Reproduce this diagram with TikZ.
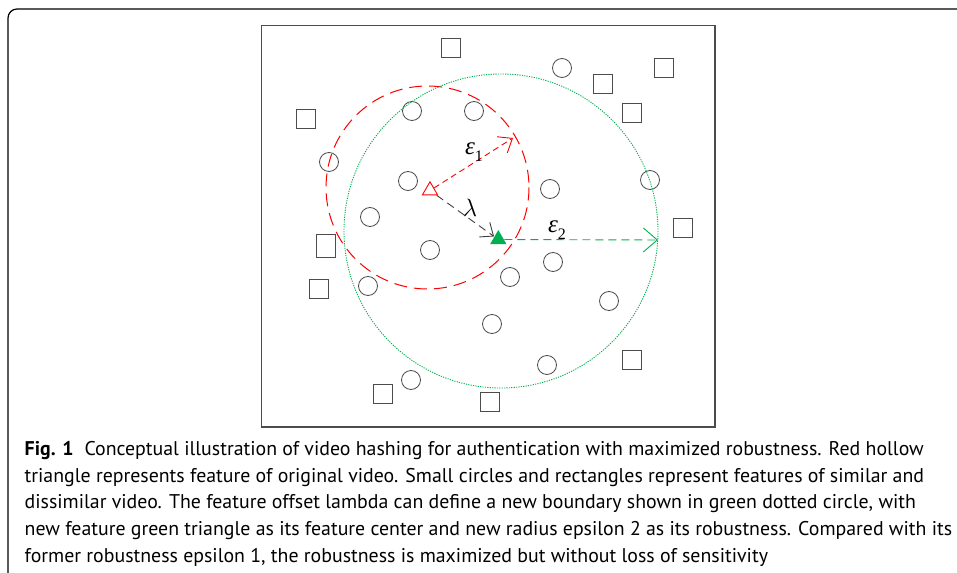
\RequirePackage{fix-cm}
\documentclass[tikz,border=0pt]{standalone}
\usepackage{fontspec}
\setsansfont{PT Sans}
\newfontfamily\lblfont{Liberation Serif}
\usetikzlibrary{shapes.geometric, arrows.meta}
\definecolor{featgreen}{RGB}{0,176,80}
\newcommand{\epslbl}[1]{{\itshape ε}\raisebox{-0.28em}{\fontsize{16bp}{16bp}\selectfont #1}}

\begin{document}
\begin{tikzpicture}[x=1bp, y=-1bp]
        % Setup the styles for the features
        \tikzset{sim style/.style={circle,
                                   draw=black!70,
                                   line width=0.8bp,
                                   minimum size=19bp,
                                   inner sep=0pt},
                 dis style/.style={rectangle,
                                   draw=black!70,
                                   line width=0.8bp,
                                   minimum size=19.5bp,
                                   inner sep=0pt},
                 tri style/.style={regular polygon,
                                   regular polygon sides=3,
                                   minimum size=17.5bp,
                                   inner sep=0pt,
                                   line width=0.9bp},
                 cap style/.style={anchor=base west,
                                   inner sep=0pt,
                                   font=\sffamily\fontsize{19.85bp}{26.7bp}\selectfont},
                 lbl style/.style={inner sep=0pt,
                                   font=\lblfont\fontsize{25bp}{28bp}\selectfont}}
        \useasboundingbox (0,0) rectangle (957,573);

        % Draw the frames
        \draw[line width=1.2bp, rounded corners=9bp] (8,600) -- (8,9) -- (980,9);
        \draw[black!70, line width=1.1bp] (261.5,25.5) rectangle (715,427);

        % Draw the similar and dissimilar features
        \foreach \x/\y [count=\i] in {412/111, 474/111, 329/162, 408/181, 370/217,
                                      430/250, 368/286, 562/68, 650/180, 550/189,
                                      553/262, 510/277, 609/301, 492/324, 547/365, 411/380}
            \node[sim style] (c\i) at (\x,\y) {};
        \foreach \x/\y [count=\i] in {451/48, 306/119, 319/289, 664/68, 603/84,
                                      632/113, 683/228, 383/394, 490/402, 632/360}
            \node[dis style] (s\i) at (\x,\y) {};
        \node[dis style, minimum height=22.5bp] (s11) at (326,246) {};

        % Draw the boundaries
        \draw[red, line width=1bp, dash pattern=on 13bp off 7bp] (427.5,187.5) circle (101.5);
        \draw[featgreen, line width=0.9bp, dash pattern=on 1.2bp off 1.2bp] (501,231) circle (157);

        % Draw the feature centers
        \node[tri style, draw=red] (redtri) at (430,190.5) {};
        \node[tri style, fill=featgreen, minimum size=19bp] (greentri) at (498.3,239.5) {};
        \coordinate (e1end) at (513,138);
        \coordinate (e2end) at (658,240);

        % Connect the centers with arrows
        \draw[red, line width=0.9bp, dash pattern=on 6bp off 4bp,
              -{Straight Barb[length=12bp, width=19bp]}] (redtri) -- (e1end);
        \draw[black!75, line width=0.9bp, dash pattern=on 8bp off 5bp,
              -{Straight Barb[length=11bp, width=18bp]}] (redtri) -- (greentri);
        \draw[featgreen, line width=0.9bp, dash pattern=on 8bp off 5bp,
              -{Straight Barb[length=14bp, width=24bp]}] (greentri) -- (e2end);

        % Labels
        \node[lbl style] (eps1) at (474,152) {\epslbl{1}};
        \node[lbl style] (lam)  at (470,208) {$\lambda$};
        \node[lbl style] (eps2) at (557,230) {\epslbl{2}};

        % Caption
        \node[cap style] (cap1) at (24.5,455.5) {\textbf{Fig. 1}\hspace{0.55em}Conceptual illustration of video hashing for authentication with maximized robustness. Red hollow};
        \node[cap style] (cap2) at (24.5,482.2) {triangle represents feature of original video. Small circles and rectangles represent features of similar and};
        \node[cap style] (cap3) at (24.5,508.9) {dissimilar video. The feature offset lambda can define a new boundary shown in green dotted circle, with};
        \node[cap style] (cap4) at (24.5,535.6) {new feature green triangle as its feature center and new radius epsilon 2 as its robustness. Compared with its};
        \node[cap style] (cap5) at (24.5,562.3) {former robustness epsilon 1, the robustness is maximized but without loss of sensitivity};
\end{tikzpicture}
\end{document}
